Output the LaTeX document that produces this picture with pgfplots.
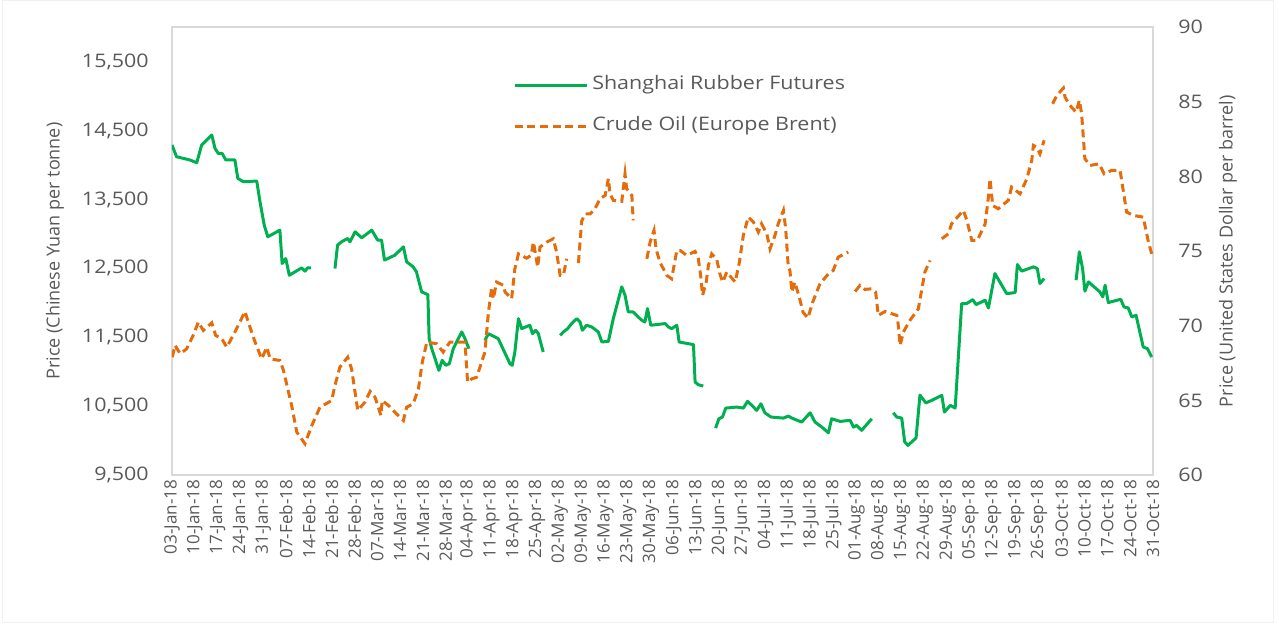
\documentclass[border=0pt]{standalone}
\usepackage{fontspec}
\setmainfont{Open Sans}
\newfontfamily\wide[FakeStretch=1.15]{Open Sans}
\usepackage{pgfplots}
\pgfplotsset{compat=1.18}
\definecolor{rubber}{HTML}{00B050}
\definecolor{brent}{HTML}{E46C0A}
\definecolor{txt}{HTML}{595959}
\definecolor{frame}{HTML}{D9D9D9}

\pgfplotsset{
  both/.style={
    width=735.75pt, height=336pt, scale only axis,
    at={(0,0)}, anchor=south west,
    xmin=0, xmax=301,
    unbounded coords=jump,
    major tick length=0pt,
    scaled y ticks=false,
    tick label style={font=\wide\fontsize{14}{16}\selectfont, text=txt},
    /pgf/number format/assume math mode=true,
    label style={font=\fontsize{13.5}{16}\selectfont, text=txt},
  },
}

\begin{document}
\begin{tikzpicture}
% page frame and bounding box
\path (-129pt,-114.75pt) rectangle (830.25pt,354.75pt);
\draw[black!6, line width=0.75pt] (-126.75pt,-110.25pt) rectangle (825.75pt,356pt);

\begin{axis}[both,
  ymin=9500, ymax=16000,
  ytick={9500,10500,...,15500},
  /pgf/number format/1000 sep={,},
  yticklabel style={xshift=-14pt},
  xtick={0,7,...,301},
  xticklabels={03-Jan-18,10-Jan-18,17-Jan-18,24-Jan-18,31-Jan-18,07-Feb-18,14-Feb-18,21-Feb-18,28-Feb-18,07-Mar-18,14-Mar-18,21-Mar-18,28-Mar-18,04-Apr-18,11-Apr-18,18-Apr-18,25-Apr-18,02-May-18,09-May-18,16-May-18,23-May-18,30-May-18,06-Jun-18,13-Jun-18,20-Jun-18,27-Jun-18,04-Jul-18,11-Jul-18,18-Jul-18,25-Jul-18,01-Aug-18,08-Aug-18,15-Aug-18,22-Aug-18,29-Aug-18,05-Sep-18,12-Sep-18,19-Sep-18,26-Sep-18,03-Oct-18,10-Oct-18,17-Oct-18,24-Oct-18,31-Oct-18},
  xticklabel style={rotate=90, anchor=east, font=\fontsize{12.8}{14}\selectfont},
  axis line style={frame, line width=1.2pt},
  ylabel={Price (Chinese Yuan per tonne)},
  ylabel style={at={(axis description cs:-0.1193,0.5)}, anchor=center},
]
\addplot[rubber, line width=2.25pt, line join=round] coordinates {
(0,14290)(1.4,14120)(5.5,14073)(7.6,14033)(9.1,14290)(12.2,14436)(13.2,14240)(14.2,14168)(15.4,14168)(16.5,14073)(19.3,14073)(20.2,13805)(21.9,13757)(26.0,13767)(27.0,13467)(28.3,13128)(29.4,12958)(33.1,13055)(33.8,12570)(34.9,12643)(36.0,12401)(39.8,12508)(40.8,12460)(41.6,12508)(42.7,12508)
(46,nan)
(50.0,12498)(50.8,12837)(52.0,12885)(53.9,12934)(54.6,12885)(56.2,13031)(58.2,12944)(61.3,13055)(63.1,12910)(64.3,12910)(65.2,12620)(68.4,12692)(71.0,12813)(72.0,12595)(74.0,12522)(75.0,12450)(76.6,12159)(78.5,12120)(78.9,11480)(79.7,11335)(81.9,11021)(82.9,11167)(84.0,11094)(85.1,11117)(86.3,11335)(88.9,11578)(89.9,11480)(91.1,11335)
(93,nan)
(96.0,11457)(97.1,11553)(99.1,11505)(100.1,11480)(103.7,11117)(104.4,11094)(105.2,11287)(106.3,11771)(107.3,11626)(109.8,11675)(110.6,11553)(111.6,11602)(112.4,11553)(113.9,11287)
(116,nan)
(119.1,11530)(120.1,11578)(121.4,11626)(122.6,11699)(124.2,11771)(125.2,11723)(125.9,11602)(127.2,11675)(128.8,11650)(130.8,11578)(131.9,11432)(133.9,11442)(135.4,11771)(138.0,12232)(139.0,12111)(140.0,11868)(141.5,11868)(144.1,11748)(145.1,11723)(145.9,11917)(146.9,11675)(151.3,11699)(152.3,11650)(153.3,11626)(154.9,11675)(155.6,11432)(160.0,11394)(160.5,10851)(161.5,10812)(163.0,10793)
(165,nan)
(166.8,10183)(167.8,10318)(168.9,10343)(169.9,10473)(173.3,10488)(175.3,10473)(176.6,10571)(177.9,10513)(179.4,10440)(180.7,10536)(181.9,10405)(183.8,10343)(187.6,10328)(189.1,10357)(190.2,10328)(193.2,10270)(195.8,10405)(197.3,10270)(199.4,10197)(201.4,10115)(202.4,10318)(205.0,10280)(208.1,10295)(209.1,10197)(210.1,10222)(211.6,10150)(214.7,10318)
(218,nan)
(221.3,10405)(222.4,10343)(223.9,10328)(224.8,9985)(225.8,9931)(228.3,10040)(229.5,10662)(231.3,10548)(233.1,10585)(236.2,10658)(237.0,10415)(238.8,10513)(240.3,10473)(242.3,11989)(243.8,11989)(245.7,12047)(246.7,11975)(249.5,12038)(250.5,11926)(252.5,12425)(256.1,12134)(258.7,12149)(259.4,12556)(260.7,12460)(264.3,12522)(265.5,12498)(266.3,12280)(267.6,12352)
(272,nan)
(277.4,12329)(278.4,12740)(279.4,12498)(280.1,12169)(281.2,12304)(284.7,12159)(285.6,12086)(286.3,12256)(287.3,12004)(291.1,12052)(292.1,11941)(293.4,11926)(294.5,11796)(295.8,11820)(298.0,11360)(299.3,11335)(300.6,11214)
};
\end{axis}

\begin{axis}[both,
  ymin=60, ymax=90,
  ytick={60,65,...,90},
  axis y line*=right, axis x line=none,
  axis line style={draw=none},
  yticklabel style={anchor=west, xshift=15.5pt},
  ylabel={Price (United States Dollar per barrel)},
  ylabel style={at={(axis description cs:1.0765,0.5)}, anchor=center},
  legend cell align=left,
  legend image code/.code={\draw[#1] (0pt,0pt) -- (54pt,0pt); \path (57pt,0pt);},
  legend style={at={(axis description cs:0.3476,0.8248)}, anchor=west,
    draw=none, fill=none, inner sep=0pt, row sep=17.75pt,
    font=\wide\fontsize{14}{16}\selectfont, text=txt,
    nodes={inner sep=0pt, text height=10pt, text depth=3pt}},
]
\addlegendimage{rubber, line width=2.25pt}
\addlegendentry{Shanghai Rubber Futures}
\addplot[brent, line width=2.25pt, dash pattern=on 6pt off 3.5pt] coordinates {
(0.1,67.90)(0.9,68.69)(1.9,68.35)(2.5,68.13)(4.5,68.46)(6.5,69.36)(8.1,70.25)(9.6,69.69)(12.2,70.20)(13.4,69.36)(15.3,69.13)(16.8,68.57)(19.3,69.58)(22.4,70.96)(23.4,70.25)(25.5,68.91)(27.5,67.79)(29.1,68.57)(30.1,67.79)(33.1,67.68)(34.2,67.01)(36.7,64.67)(38.3,62.88)(40.8,62.10)(42.9,63.33)(45.4,64.55)(49.0,65.00)(50.0,66.01)(51.5,67.23)(53.9,67.90)(55.1,67.12)(57.0,64.33)(59.2,64.89)(60.8,65.61)(62.3,65.22)(64.1,64.00)(64.5,65.00)(66.4,64.67)(68.4,64.22)(71.0,63.66)(72.0,64.55)(74.0,64.78)(75.6,65.78)(76.8,67.57)(78.2,68.91)(81.2,68.80)(83.2,68.24)(83.8,68.46)(85.3,68.91)(89.9,68.91)(90.7,66.23)(92.0,66.45)(93.5,66.56)(96.0,68.24)(97.1,70.92)(98.1,72.59)(98.6,71.81)(99.6,72.93)(101.7,72.71)(102.2,72.26)(104.2,71.81)(105.2,73.82)(106.3,74.82)(108.8,74.53)(110.2,74.72)(110.9,75.61)(111.6,74.72)(112.2,73.93)(112.9,75.27)(115.0,75.61)(117.0,75.83)(118.0,74.94)(119.1,73.38)(120.1,73.38)(121.1,74.49)
(123,nan)
(124.7,74.20)(125.7,77.00)(126.7,77.50)(128.3,77.50)(129.8,77.84)(131.3,78.51)(132.9,78.73)(133.9,79.85)(134.4,78.84)(135.4,78.40)(138.0,78.33)(139.0,80.18)(139.5,79.18)(141.1,78.73)(141.5,77.06)
(143,nan)
(145.7,74.49)(146.7,75.61)(147.9,76.39)(148.5,75.16)(149.7,74.27)(151.8,73.38)(153.3,73.15)(154.9,75.05)(155.9,75.05)(157.9,74.72)(160.5,74.98)(161.5,74.49)(162.2,73.38)(162.8,72.04)(163.9,72.93)(164.6,74.05)(165.6,74.82)(167.1,74.49)(168.1,73.48)(169.0,72.93)(170.2,73.60)(172.8,72.93)(174.1,74.27)(175.3,76.05)(176.8,77.28)(178.4,76.95)(179.9,76.28)(180.9,76.83)(182.5,76.16)(183.5,75.16)(185.0,76.05)(186.0,76.83)(187.6,77.73)(188.3,76.50)(189.1,73.93)(189.6,73.71)(190.2,72.26)(191.1,72.93)(192.6,71.81)(193.6,70.92)(195.1,70.52)(196.6,71.59)(198.8,72.81)(201.4,73.48)(202.9,73.71)(204.4,74.60)(207.5,74.94)
(208.5,nan)
(209.6,72.30)(211.1,72.71)(212.6,72.44)(214.7,72.48)(215.9,72.26)(216.7,70.70)(218.8,70.96)(222.4,70.70)(222.8,70.13)(223.4,68.69)(224.4,69.58)(226.4,70.36)(229.0,71.14)(231.0,73.60)(232.6,74.38)
(234,nan)
(236.2,75.83)(238.2,76.16)(239.2,76.83)(242.8,77.73)(243.9,77.06)(245.4,75.72)(247.1,75.72)(249.5,76.83)(250.5,78.62)(251.0,79.85)(251.8,78.06)(253.5,77.84)(256.6,78.40)(257.6,79.29)(260.2,78.84)(262.3,79.85)(263.8,81.08)(264.3,82.08)(265.3,81.97)(266.3,81.52)(267.6,82.42)
(269,nan)
(270.2,84.87)(271.5,85.43)(273.5,85.92)(274.0,85.32)(275.5,84.76)(277.4,84.31)(278.4,85.10)(279.1,84.20)(280.1,81.19)(281.7,80.74)(284.5,80.85)(286.0,80.18)(288.3,80.41)(290.9,80.41)(292.9,77.62)(295.0,77.39)(298.0,77.28)(299.6,75.61)(300.6,74.82)
};
\addlegendentry{Crude Oil (Europe Brent)}
\end{axis}
\end{tikzpicture}
\end{document}
